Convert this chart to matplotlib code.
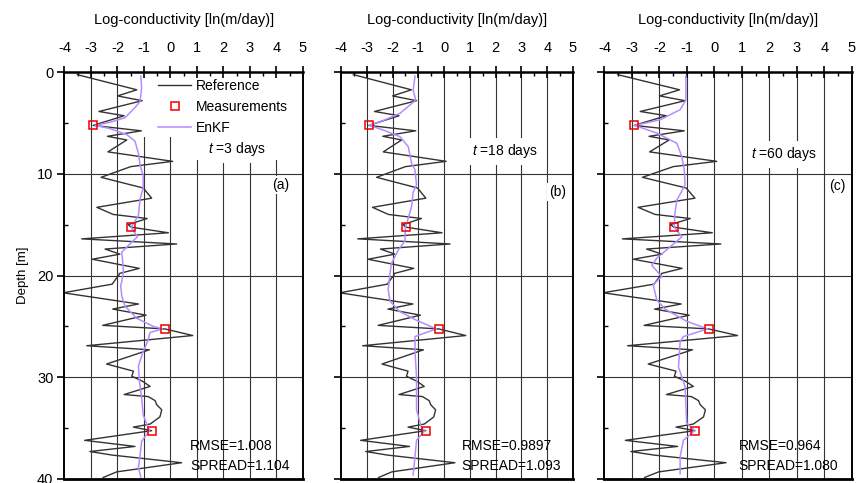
import numpy as np
import matplotlib
matplotlib.use("Agg")
import matplotlib.pyplot as plt
from matplotlib.lines import Line2D
from matplotlib.patches import Rectangle

plt.rcParams['font.family'] = ['Liberation Sans', 'DejaVu Sans']
plt.rcParams['axes.unicode_minus'] = False
plt.rcParams['mathtext.fontset'] = 'custom'
plt.rcParams['mathtext.it'] = 'Liberation Sans:italic'
plt.rcParams['mathtext.rm'] = 'Liberation Sans'

# reference (true) log-conductivity profile
ref_depth = [0.26, 1.75, 2.35, 2.82, 3.88, 4.3, 5.25, 5.78, 6.32, 6.68, 7.85, 8.78, 9.3,
             10.35, 11.4, 12.4, 13.3, 14.0, 14.4, 15.0, 15.25, 15.8, 16.4, 16.9, 17.4, 17.9,
             18.4, 19.3, 19.8, 20.0, 20.3, 20.85, 21.7, 22.8, 23.3, 23.9, 24.9, 25.25, 25.9,
             26.9, 27.3, 28.7, 29.4, 29.9, 30.4, 30.9, 31.7, 31.9, 32.3, 32.7, 33.2, 33.9,
             34.6, 34.9, 35.25, 36.2, 36.8, 37.3, 37.65, 38.4, 39.3, 39.85]
ref_logk = [-3.52, -1.27, -2.0, -1.07, -2.7, -1.75, -2.92, -1.1, -2.38, -1.65, -2.36, 0.08, -1.5,
            -2.62, -1.03, -0.71, -2.78, -2.16, -0.88, -1.6, -1.48, -0.08, -3.35, 0.23, -2.47, -1.91,
            -2.95, -1.18, -1.93, -1.95, -2.05, -2.2, -4.05, -1.21, -2.18, -0.92, -2.56, -0.21, 0.84,
            -3.16, -0.8, -2.41, -1.4, -1.46, -1.05, -0.77, -1.75, -0.84, -0.58, -0.52, -0.33, -0.4,
            -0.77, -1.4, -0.71, -3.24, -1.34, -3.04, -2.2, 0.42, -2.03, -2.54]

meas_depth = [5.25, 15.25, 25.25, 35.25]
meas_logk = [-2.92, -1.48, -0.21, -0.71]

# EnKF estimates at t = 3, 18, 60 days
enkf_a_depth = [0.4, 1.6, 2.9, 3.5, 4.5, 4.95, 5.25, 5.55, 6.15, 6.8, 8.0, 9.1, 10.2, 11.4, 12.5,
                14.1, 15.25, 16.2, 16.9, 17.7, 18.7, 19.7, 20.6, 21.0, 22.0, 23.0, 24.2, 25.0,
                25.25, 25.6, 26.3, 27.6, 28.9, 30.2, 32.0, 33.7, 35.25, 36.3, 37.7, 38.9, 39.8]
enkf_a_logk = [-1.12, -1.09, -1.15, -1.34, -1.72, -2.3, -2.85, -2.3, -1.65, -1.34, -1.21, -1.15,
               -1.03, -1.03, -1.15, -1.21, -1.48, -1.25, -1.53, -1.84, -1.8, -1.78, -1.84, -1.88,
               -1.84, -1.72, -1.28, -0.65, -0.3, -0.77, -0.84, -1.05, -1.21, -1.18, -1.09, -1.03,
               -0.8, -1.09, -1.15, -1.21, -1.12]

enkf_b_depth = [0.4, 1.8, 2.75, 3.3, 4.06, 4.7, 5.25, 5.7, 6.36, 7.34, 9.0, 9.6, 11.1, 11.8, 13.2,
                14.9, 15.25, 16.6, 17.5, 18.8, 19.8, 21.4, 22.5, 23.5, 24.4, 25.25, 26.0, 27.4,
                30.0, 33.2, 35.0, 35.25, 36.2, 37.8, 39.6]
enkf_b_logk = [-1.13, -1.2, -1.1, -1.35, -1.71, -2.3, -2.9, -2.36, -1.71, -1.39, -1.26, -1.13,
               -1.07, -1.2, -1.26, -1.45, -1.5, -1.52, -1.78, -2.04, -2.1, -2.17, -2.1, -1.75,
               -1.07, -0.3, -1.13, -1.13, -1.07, -1.07, -0.87, -0.75, -1.07, -1.13, -1.2]

enkf_c_depth = [0.4, 2.75, 3.7, 4.7, 5.25, 6.0, 7.0, 8.3, 9.6, 11.1, 12.6, 13.9, 15.25, 16.2, 17.2,
                18.3, 19.0, 20.1, 20.9, 22.4, 23.3, 24.5, 25.25, 26.0, 26.5, 29.0, 30.9, 34.5,
                35.25, 36.2, 37.8, 39.5]
enkf_c_logk = [-1.04, -1.04, -1.25, -1.98, -2.9, -2.1, -1.37, -1.19, -1.1, -1.07, -1.37, -1.44,
               -1.46, -1.19, -1.62, -2.1, -2.28, -1.92, -2.23, -2.1, -1.8, -1.01, -0.25, -1.13,
               -1.25, -1.31, -1.07, -1.01, -0.72, -1.13, -1.25, -1.25]

times = ["3", "18", "60"]
panel_tags = ["(a)", "(b)", "(c)"]
rmse = ["1.008", "0.9897", "0.964"]
spread = ["1.104", "1.093", "1.080"]
enkf_depths = [enkf_a_depth, enkf_b_depth, enkf_c_depth]
enkf_vals = [enkf_a_logk, enkf_b_logk, enkf_c_logk]

W, H = 862, 483
fig = plt.figure(figsize=(W / 100, H / 100), dpi=100)

# pixel extents of each panel (left, right)
extents = [(64.5, 303), (341, 573), (604.5, 852)]
top_px, bot_px = 72, 479
t_pos = [(2.5, 7.6), (2.36, 7.8), (2.53, 8.1)]
tag_pos = [(4.5, 11.1), (4.75, 11.8), (4.75, 11.2)]
stat_x = [0.74, 0.68, 0.87]

ref_col = '#333333'
enkf_col = '#b48cff'

for i in range(3):
    l, r = extents[i]
    ax = fig.add_axes([l / W, 1 - bot_px / H, (r - l) / W, (bot_px - top_px) / H])
    ax.set_xlim(-4, 5)
    ax.set_ylim(40, 0)

    for gx in range(-3, 5):
        ax.axvline(gx, color='0.2', lw=0.8, zorder=0.5)
    for gy in (10, 20, 30):
        ax.axhline(gy, color='0.2', lw=0.8, zorder=0.5)

    if i == 0:
        ax.add_patch(Rectangle((-1.1, 0), 6.1, 6.4, facecolor='white', edgecolor='none', zorder=1))
        ax.add_patch(Rectangle((0.6, 6.3), 4.4, 2.3, facecolor='white', edgecolor='none', zorder=1))

    ax.plot(ref_logk, ref_depth, color=ref_col, lw=1.0, zorder=2)
    ax.plot(enkf_vals[i], enkf_depths[i], color=enkf_col, lw=1.1, zorder=2.5)
    ax.plot(meas_logk, meas_depth, ls='none', marker='s', ms=6, mfc='none', mec='#ee0000',
            mew=1.1, zorder=3)

    ax.text(t_pos[i][0], t_pos[i][1], "$t$ =" + times[i] + " days", fontsize=10, ha='center',
            va='center', zorder=4,
            bbox=dict(boxstyle='square,pad=0.35', facecolor='white', edgecolor='none'))
    ax.text(tag_pos[i][0], tag_pos[i][1], panel_tags[i], fontsize=10, ha='right', va='center',
            zorder=4, bbox=dict(boxstyle='square,pad=0.15', facecolor='white', edgecolor='none'))
    ax.text(stat_x[i], 36.8, "RMSE=" + rmse[i], fontsize=10, ha='left', va='center', zorder=4)
    ax.text(stat_x[i], 38.7, "SPREAD=" + spread[i], fontsize=10, ha='left', va='center', zorder=4)

    ax.xaxis.tick_top()
    ax.xaxis.set_label_position('top')
    ax.set_xticks(np.arange(-4, 6, 1))
    ax.set_xticks(np.arange(-3.5, 5, 1), minor=True)
    ax.set_yticks([0, 10, 20, 30, 40])
    ax.set_yticks([5, 15, 25, 35], minor=True)
    ax.tick_params(axis='x', which='major', direction='inout', length=8, width=1.2, pad=8.5,
                   labelsize=10.5, top=True, bottom=False)
    ax.tick_params(axis='x', which='minor', direction='in', length=3, width=1, top=True,
                   bottom=False)
    ax.tick_params(axis='y', which='major', direction='out', length=5, width=1.2, pad=3,
                   labelsize=10.5)
    ax.tick_params(axis='y', which='minor', direction='in', length=3, width=1)
    ax.set_xlabel("Log-conductivity [ln(m/day)]", fontsize=10.5, labelpad=12)
    if i == 0:
        ax.set_ylabel("Depth [m]", fontsize=9.5, labelpad=6)
    else:
        ax.set_yticklabels([])
    for s in ax.spines.values():
        s.set_linewidth(1.4)
        s.set_zorder(5)
    ax.spines['top'].set_linewidth(1.8)
    ax.spines['bottom'].set_linewidth(2.0)

    if i == 0:
        handles = [Line2D([], [], color=ref_col, lw=1.0),
                   Line2D([], [], ls='none', marker='s', ms=6, mfc='none', mec='#ee0000', mew=1.1),
                   Line2D([], [], color=enkf_col, lw=1.1)]
        leg = ax.legend(handles, ["Reference", "Measurements", "EnKF"], loc='upper left',
                        bbox_to_anchor=(0.392, 0.982), frameon=False, fontsize=10,
                        handlelength=2.4, handletextpad=0.35, labelspacing=0.5,
                        borderpad=0, borderaxespad=0)
        leg.set_zorder(4)

fig.savefig("out.png", dpi=100)
